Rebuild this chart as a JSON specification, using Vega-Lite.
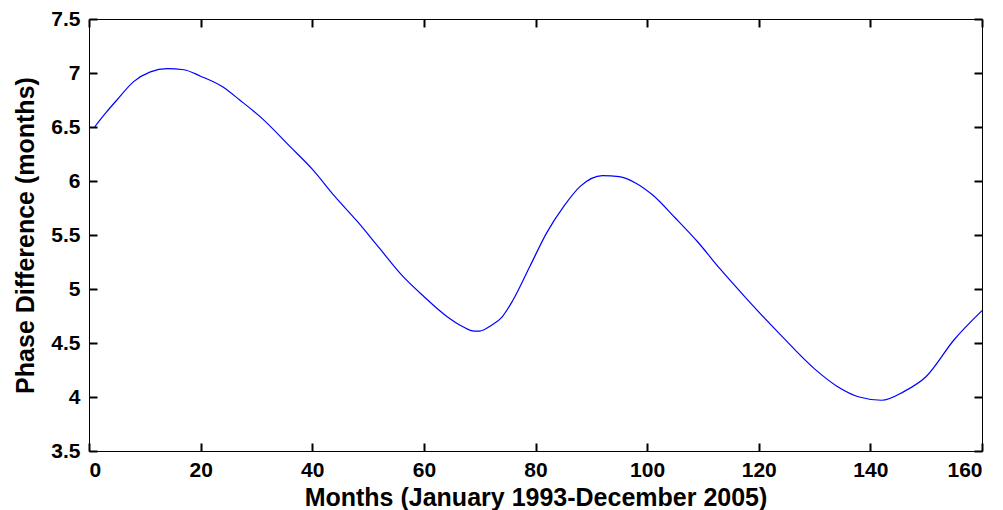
{
  "$schema": "https://vega.github.io/schema/vega-lite/v6.json",
  "autosize": {"type": "none"},
  "padding": {"left": 89, "top": 19, "right": 21, "bottom": 59},
  "width": 893,
  "height": 432,
  "background": "white",
  "config": {
    "view": {"stroke": "black", "strokeWidth": 1},
    "axis": {
      "grid": false,
      "labelColor": "black",
      "titleColor": "black",
      "labelFont": "Liberation Sans",
      "titleFont": "Liberation Sans",
      "labelFontSize": 21,
      "titleFontSize": 25,
      "titleFontWeight": "bold",
      "labelFontWeight": "bold",
      "format": "~r"
    }
  },
  "data": {
    "values": [
      {"month": 1, "phase": 6.50},
      {"month": 3, "phase": 6.63},
      {"month": 5, "phase": 6.75},
      {"month": 8, "phase": 6.92},
      {"month": 11, "phase": 7.01},
      {"month": 14, "phase": 7.04},
      {"month": 17, "phase": 7.03},
      {"month": 20, "phase": 6.97},
      {"month": 24, "phase": 6.87},
      {"month": 27, "phase": 6.75},
      {"month": 31, "phase": 6.58},
      {"month": 36, "phase": 6.32},
      {"month": 40, "phase": 6.11},
      {"month": 44, "phase": 5.86},
      {"month": 48, "phase": 5.63},
      {"month": 52, "phase": 5.38},
      {"month": 56, "phase": 5.13},
      {"month": 60, "phase": 4.93},
      {"month": 64, "phase": 4.75},
      {"month": 67, "phase": 4.65},
      {"month": 69, "phase": 4.61},
      {"month": 70, "phase": 4.61},
      {"month": 72, "phase": 4.66},
      {"month": 74, "phase": 4.74},
      {"month": 76, "phase": 4.90},
      {"month": 79, "phase": 5.21},
      {"month": 82, "phase": 5.52},
      {"month": 85, "phase": 5.76},
      {"month": 88, "phase": 5.95},
      {"month": 92, "phase": 6.05},
      {"month": 95, "phase": 6.04},
      {"month": 98, "phase": 5.98},
      {"month": 101, "phase": 5.87},
      {"month": 105, "phase": 5.66},
      {"month": 109, "phase": 5.44},
      {"month": 113, "phase": 5.19},
      {"month": 118, "phase": 4.90},
      {"month": 124, "phase": 4.57},
      {"month": 130, "phase": 4.26},
      {"month": 134, "phase": 4.10},
      {"month": 138, "phase": 4.00},
      {"month": 142, "phase": 3.97},
      {"month": 146, "phase": 4.05},
      {"month": 150, "phase": 4.19},
      {"month": 155, "phase": 4.53},
      {"month": 160, "phase": 4.80}
    ]
  },
  "layer": [
    {
      "mark": {"type": "line", "color": "#0000ff", "strokeWidth": 1.2, "interpolate": "monotone"},
      "encoding": {
        "x": {
          "field": "month", "type": "quantitative",
          "scale": {"domain": [0, 160], "nice": false, "zero": false},
          "axis": {
            "values": [0, 20, 40, 60, 80, 100, 120, 140, 160],
            "title": "Months (January 1993-December 2005)",
            "ticks": true, "tickSize": 8, "tickWidth": 2, "tickColor": "#000000", "offset": -8, "zindex": 1,
            "domain": true, "domainOpacity": 0,
            "labelPadding": 8, "titlePadding": 5
          }
        },
        "y": {
          "field": "phase", "type": "quantitative",
          "scale": {"domain": [3.5, 7.5], "nice": false, "zero": false},
          "axis": {
            "values": [3.5, 4, 4.5, 5, 5.5, 6, 6.5, 7, 7.5],
            "title": "Phase Difference (months)",
            "ticks": true, "tickSize": 8, "tickWidth": 2, "tickColor": "#000000", "offset": -8, "zindex": 1,
            "domain": true, "domainOpacity": 0,
            "labelPadding": 9, "titlePadding": 12
          }
        }
      }
    },
    {
      "mark": {"type": "line", "opacity": 0},
      "encoding": {
        "x": {
          "field": "month", "type": "quantitative",
          "scale": {"domain": [0, 160], "nice": false, "zero": false},
          "axis": {
            "orient": "top", "values": [0, 20, 40, 60, 80, 100, 120, 140, 160],
            "labels": false, "title": null,
            "ticks": true, "tickSize": 8, "tickWidth": 2, "tickColor": "#000000", "offset": -8, "zindex": 1,
            "domain": true, "domainOpacity": 0
          }
        },
        "y": {
          "field": "phase", "type": "quantitative",
          "scale": {"domain": [3.5, 7.5], "nice": false, "zero": false},
          "axis": {
            "orient": "right", "values": [3.5, 4, 4.5, 5, 5.5, 6, 6.5, 7, 7.5],
            "labels": false, "title": null,
            "ticks": true, "tickSize": 8, "tickWidth": 2, "tickColor": "#000000", "offset": -8, "zindex": 1,
            "domain": true, "domainOpacity": 0
          }
        }
      }
    }
  ],
  "resolve": {"axis": {"x": "independent", "y": "independent"}}
}
